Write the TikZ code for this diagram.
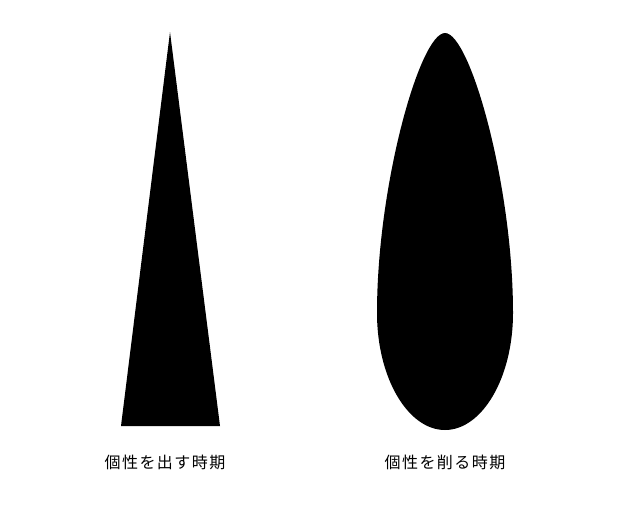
\documentclass[tikz,border=0pt]{standalone}
\usepackage{fontspec}
\newfontfamily\jpfont[LetterSpace=9]{Noto Sans CJK JP}
\usepackage{tikz}

\begin{document}
\begin{tikzpicture}[x=1pt,y=-1pt,
	shape fill/.style = {fill=black,draw=none},
	caption/.style = {font=\jpfont\fontsize{16}{16}\selectfont,inner sep=0pt}
	]
	\useasboundingbox (0,0) rectangle (640,512);
	%TRIANGOLO
	\fill[shape fill] (170,32) -- (220,426) -- (121,426) -- cycle;
	%GOCCIA
	\fill[shape fill] (445,33) .. controls (470,33) and (513,185) .. (513,313)
		.. controls (513,378) and (482,430) .. (445,430)
		.. controls (408,430) and (377,378) .. (377,313)
		.. controls (377,185) and (420,33) .. (445,33) -- cycle;
	%DIDASCALIE
	\node[caption] (out) at (165,462) {個性を出す時期};
	\node[caption] (cut) at (445,462) {個性を削る時期};
\end{tikzpicture}
\end{document}
